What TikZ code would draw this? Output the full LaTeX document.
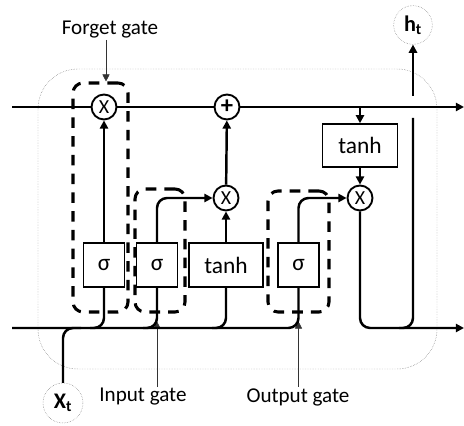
\documentclass[tikz,border=0pt]{standalone}
\usepackage{fontspec}
\setmainfont{Carlito}
\usetikzlibrary{arrows.meta, positioning, calc}

\begin{document}
\begin{tikzpicture}[
        x=0.03cm, y=-0.03cm,
        flow/.style={line width=2.1pt, draw=black},
        arr/.style={flow, -{Triangle[length=7pt, width=7pt]}},
        gate/.style={rectangle, draw=black, line width=1.3pt, fill=white, minimum width=1.23cm, minimum height=1.32cm, font=\fontsize{20}{22}\selectfont, inner sep=0pt},
        op/.style={circle, draw=black, line width=1.6pt, fill=white, minimum size=0.75cm, inner sep=0pt, font=\fontsize{17}{19}\selectfont},
        gatebox/.style={rectangle, draw=black, line width=2.6pt, dash pattern=on 9pt off 7pt, rounded corners=0.3cm, inner sep=0pt},
        io/.style={circle, draw=black!60, densely dotted, thin, minimum size=1.16cm, inner sep=0pt, font=\bfseries\fontsize{19}{21}\selectfont},
        caption/.style={font=\fontsize{18}{20}\selectfont, inner sep=1pt},
        pointer/.style={thin, draw=black!80, -{Triangle[length=6pt, width=6pt]}}
    ]
        \useasboundingbox (0,0) rectangle (464,426);
        % cell border
        \draw[black!60, densely dotted, thin, rounded corners=1.2cm] (38,69) rectangle (437,369);
        % gate outlines
        \node[gatebox, minimum width=1.65cm, minimum height=6.87cm] (fg) at (100.5,197.5) {};
        \node[gatebox, minimum width=1.5cm, minimum height=3.69cm] (ig) at (160,250.5) {};
        \node[gatebox, minimum width=1.83cm, minimum height=3.63cm] (og) at (298.5,251.5) {};
        % operations
        \node[op] (fx) at (104,107) {X};
        \node[op, font=\bfseries\fontsize{21}{23}\selectfont] (plus) at (227,107) {+};
        \node[op] (ix) at (226,198) {X};
        \node[op] (ox) at (360,198) {X};
        \node[gate] (sf) at (104,265) {σ};
        \node[gate] (si) at (157,265) {σ};
        \node[gate, minimum width=2.22cm] (tc) at (226,265) {tanh};
        \node[gate] (so) at (298.5,265) {σ};
        \node[gate, minimum width=2.25cm, minimum height=1.29cm] (th) at (360,145.5) {tanh};
        \node[io] (ht) at (413,25) {h\textsubscript{t}};
        \node[io, minimum size=1.2cm] (xt) at (63,403) {X\textsubscript{t}};
        % captions
        \node[caption] (lf) at (110,30) {Forget gate};
        \node[caption] (li) at (143,397) {Input gate};
        \node[caption] (lo) at (298,397) {Output gate};
        \draw[pointer] ([xshift=-0.12cm]lf.south) -- ([xshift=-0.12cm]lf.south |- fg.north);
        \draw[pointer] (li.north -| si.south) -- ($(ig.south -| si.south)+(0,8)$);
        \draw[pointer] (lo.north -| og.south) -- ($(og.south)+(0,8)$);
        % ends
        \coordinate (cin) at (12,107);
        \coordinate (cout) at (464,107);
        \coordinate (hin) at (12,328);
        \coordinate (hout) at (464,328);
        \coordinate (gapb) at (413,118);
        \coordinate (gapt) at (413,96);
        % cell state
        \draw[flow] (cin) -- (fx);
        \draw[flow] (fx) -- (plus);
        \draw[arr] (plus) -- (cout);
        \draw[arr] (th.north |- cin) -- (th.north);
        % gate outputs
        \draw[arr] (sf) -- (fx);
        \draw[arr, rounded corners=0.3cm] (si.north) |- (ix.west);
        \draw[arr] (tc) -- (ix);
        \draw[arr] (ix) -- (plus);
        \draw[arr, rounded corners=0.3cm] (so.north) |- (ox.west);
        \draw[arr] (th) -- (ox);
        % inputs
        \draw[flow, rounded corners=0.3cm] (hin) -| (so.south);
        \draw[flow, rounded corners=0.3cm] ($(sf.south |- hin)+(-14,0)$) -| (sf.south);
        \draw[flow, rounded corners=0.3cm] ($(si.south |- hin)+(-14,0)$) -| (si.south);
        \draw[flow, rounded corners=0.3cm] ($(tc.south |- hin)+(-14,0)$) -| (tc.south);
        \draw[flow, rounded corners=0.3cm] (xt.north) |- ($(xt.north |- hin)+(18,0)$);
        % hidden output
        \draw[arr, rounded corners=0.3cm] (ox.south) |- (hout);
        \draw[flow, rounded corners=0.3cm] ($(ht.south |- hout)+(-14,0)$) -| (gapb);
        \draw[arr] (gapt) -- (ht);
    \end{tikzpicture}
\end{document}
